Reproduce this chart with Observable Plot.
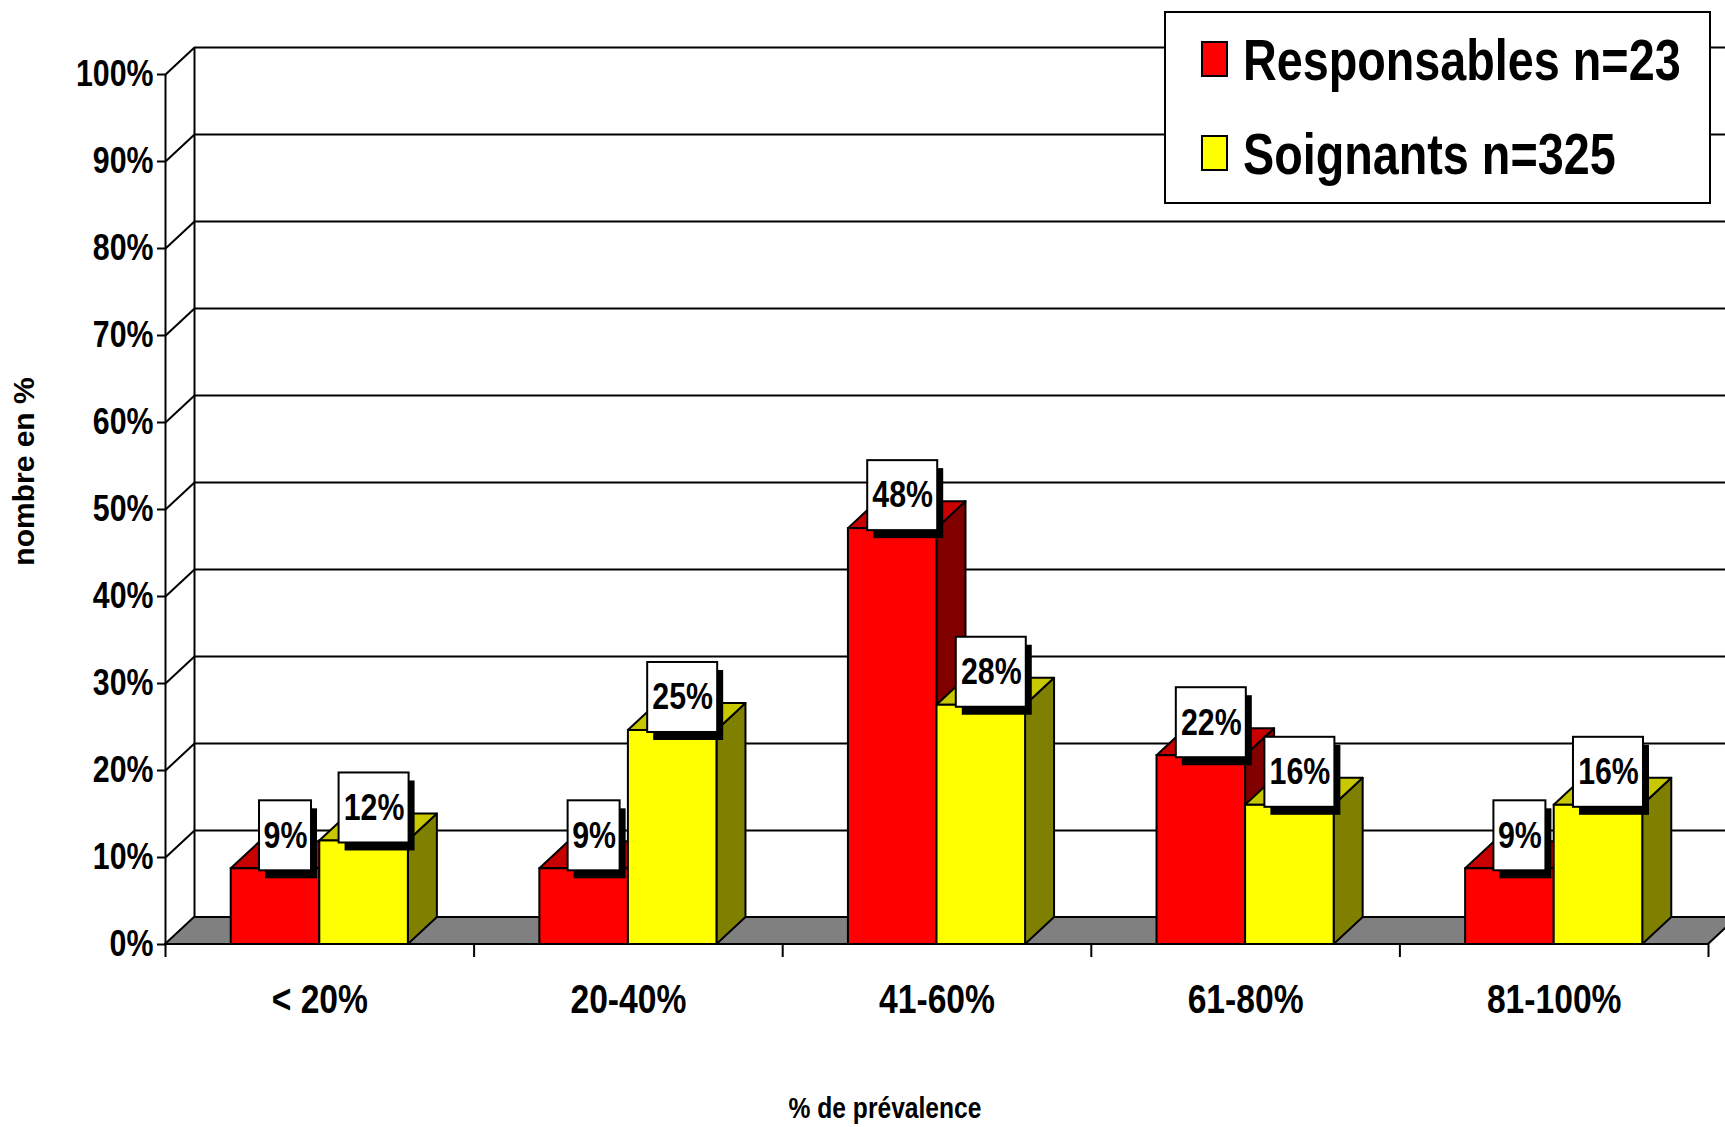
<!DOCTYPE html>
<html><head><meta charset="utf-8">
<script src="https://cdn.jsdelivr.net/npm/d3@7"></script>
<script src="https://cdn.jsdelivr.net/npm/@observablehq/plot@0.6"></script>
<style>
html,body{margin:0;padding:0;background:#fff;overflow:hidden;}
#wrap{position:relative;width:1725px;height:1127px;}
#legend{position:absolute;left:1164px;top:11px;}
</style></head><body><div id="wrap"></div>
<script>
// ---- data ----
const categories = ["< 20%", "20-40%", "41-60%", "61-80%", "81-100%"];
const seriesNames = ["Responsables n=23", "Soignants n=325"];
const responsables = [8.7, 8.7, 47.8, 21.7, 8.7];
const soignants = [11.9, 24.6, 27.5, 16.0, 16.0];
const respLabels = ["9%", "9%", "48%", "22%", "9%"];
const soignLabels = ["12%", "25%", "28%", "16%", "16%"];
const yTicks = [0, 10, 20, 30, 40, 50, 60, 70, 80, 90, 100];
const yTickLabels = ["0%", "10%", "20%", "30%", "40%", "50%", "60%", "70%", "80%", "90%", "100%"];
const yTitle = "nombre en %";
const xTitle = "% de prévalence";

// ---- layout & style ----
const W = 1725, H = 1127, ML = 165, MR = 17, MT = 74, MB = 183;
const FONT = "'Liberation Sans',Arial,sans-serif";
const NARROW_FACTOR = 0.82; // emulate Arial Narrow Bold
const ux = (W - ML - MR) / categories.length; // px per category
const uy = (H - MT - MB) / 100;                // px per percent
const DX = 29 / ux, DY = 27 / uy;              // 3D depth
const PAD = 0.213, BW = (1 - 2 * PAD) / 2;
const faces = [
  {front: "#FF0000", top: "#C80000", side: "#800000"},
  {front: "#FFFF00", top: "#C8C800", side: "#808000"}
];
const seriesValues = [responsables, soignants];
const seriesLabels = [respLabels, soignLabels];

const bars = seriesValues.flatMap((vals, s) => vals.map((v, i) => {
  const x1 = i + PAD + s * BW;
  return {s, i, cat: categories[i], v, x1, x2: x1 + BW, label: seriesLabels[s][i]};
}));

const barMarks = seriesValues.flatMap((_, s) => {
  const b = bars.filter(d => d.s === s);
  const side = b.flatMap(d => [
    {z: d.i, x: d.x2, y1: 0, y2: d.v},
    {z: d.i, x: d.x2 + DX, y1: DY, y2: d.v + DY}
  ]);
  const top = b.flatMap(d => [
    {z: d.i, y: d.v, x1: d.x1, x2: d.x2},
    {z: d.i, y: d.v + DY, x1: d.x1 + DX, x2: d.x2 + DX}
  ]);
  return [
    Plot.areaY(side, {x: "x", y1: "y1", y2: "y2", z: "z", fill: faces[s].side, stroke: "black", strokeWidth: 2}),
    Plot.areaX(top, {y: "y", x1: "x1", x2: "x2", z: "z", fill: faces[s].top, stroke: "black", strokeWidth: 2}),
    Plot.rect(b, {x1: "x1", x2: "x2", y1: () => 0, y2: "v", fill: faces[s].front, stroke: "black", strokeWidth: 2})
  ];
});

const boxes = bars.map(d => {
  const cx = (d.x1 + d.x2) / 2 + 10 / ux;
  const cy = d.v + 33 / uy;
  const hw = (d.label.length > 2 ? 70 : 52) / ux / 2;
  const hh = 35 / uy;
  return {...d, cx, cy, bx1: cx - hw, bx2: cx + hw, by1: cy - hh, by2: cy + hh};
});

const n = categories.length;
const floor = [{y: 0, x1: 0, x2: n}, {y: DY, x1: DX, x2: n + DX}];

const chart = Plot.plot({
  width: W, height: H,
  marginLeft: ML, marginRight: MR, marginTop: MT, marginBottom: MB,
  x: {domain: [0, n], axis: null},
  y: {domain: [0, 100], axis: null},
  style: {background: "white"},
  marks: [
    // back wall gridlines
    Plot.ruleY(yTicks, {y: d => d + DY, x1: () => DX, x2: () => n + MR / ux, stroke: "black", strokeWidth: 2}),
    Plot.ruleX([DX], {y1: () => DY, y2: () => 100 + DY, stroke: "black", strokeWidth: 2}),
    // side wall diagonals
    Plot.link(yTicks, {x1: () => 0, y1: d => d, x2: () => DX, y2: d => d + DY, stroke: "black", strokeWidth: 2}),
    // floor
    Plot.areaX(floor, {y: "y", x1: "x1", x2: "x2", fill: "#808080", stroke: "black", strokeWidth: 2}),
    // front axis + ticks
    Plot.ruleX([0], {y1: () => -13 / uy, y2: () => 100, stroke: "black", strokeWidth: 2}),
    Plot.ruleY(yTicks, {y: d => d, x1: () => -8 / ux, x2: () => 0, stroke: "black", strokeWidth: 2}),
    Plot.ruleX(d3.range(1, n + 1), {y1: () => 0, y2: () => -13 / uy, stroke: "black", strokeWidth: 2}),
    // bars
    ...barMarks,
    // data labels
    Plot.rect(boxes, {x1: "bx1", x2: "bx2", y1: "by1", y2: "by2", fill: "black", dx: 6, dy: 8}),
    Plot.rect(boxes, {x1: "bx1", x2: "bx2", y1: "by1", y2: "by2", fill: "white", stroke: "black", strokeWidth: 2}),
    Plot.text(boxes, {x: "cx", y: "cy", text: "label", fontSize: 37, fontWeight: "bold", fontFamily: FONT, fill: "black"}),
    // axis labels
    Plot.text(yTicks, {y: d => d, text: (d, i) => yTickLabels[i], frameAnchor: "left", textAnchor: "end", dx: -12,
      fontSize: 37, fontWeight: "bold", fontFamily: FONT, fill: "black"}),
    Plot.text(categories, {x: (d, i) => i + 0.5, text: d => d, frameAnchor: "bottom", dy: 68,
      fontSize: 41, fontWeight: "bold", fontFamily: FONT, fill: "black"}),
    Plot.text([yTitle], {text: d => d, frameAnchor: "left", textAnchor: "middle", rotate: -90, dx: -141, dy: -38,
      fontSize: 30, fontWeight: "bold", fontFamily: FONT, fill: "black"}),
    Plot.text([xTitle], {text: d => d, frameAnchor: "bottom", textAnchor: "middle", dx: -52, dy: 173,
      fontSize: 30, fontWeight: "bold", fontFamily: FONT, fill: "black"})
  ]
});
const wrap = document.getElementById("wrap");
wrap.appendChild(chart);

// condense chart texts (narrow bold face) except the vertical axis title
chart.querySelectorAll("text").forEach(el => {
  if (el.textContent === yTitle) return;
  const L = el.getComputedTextLength();
  if (L > 0) {
    el.setAttribute("textLength", (L * NARROW_FACTOR).toFixed(1));
    el.setAttribute("lengthAdjust", "spacingAndGlyphs");
  }
});

// legend (overlay, top right)
const legendColors = faces.map(f => f.front);
const lg = d3.select(wrap).append("svg").attr("id", "legend").attr("width", 547).attr("height", 193);
lg.append("rect").attr("x", 1).attr("y", 1).attr("width", 545).attr("height", 191)
  .attr("fill", "white").attr("stroke", "black").attr("stroke-width", 2);
seriesNames.forEach((name, k) => {
  lg.append("rect").attr("x", 38).attr("y", 31 + k * 94).attr("width", 25).attr("height", 34)
    .attr("fill", legendColors[k]).attr("stroke", "black").attr("stroke-width", 2);
  lg.append("text").attr("transform", `translate(79,${69 + k * 94}) scale(${NARROW_FACTOR},1)`).text(name)
    .attr("font-family", FONT).attr("font-weight", "bold").attr("font-size", 57).attr("fill", "black");
});
</script></body></html>
